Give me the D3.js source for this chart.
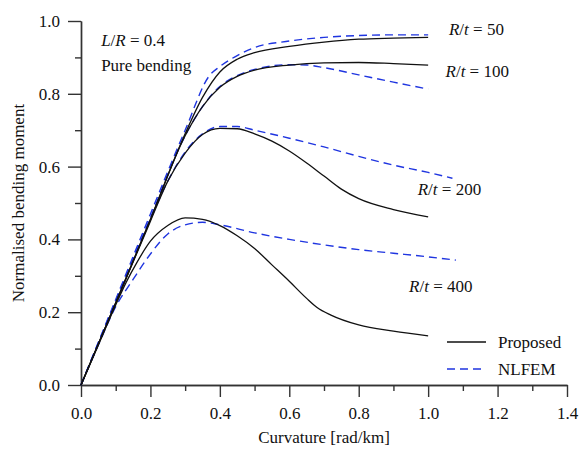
<!DOCTYPE html>
<html>
<head>
<meta charset="utf-8">
<script src="https://cdn.jsdelivr.net/npm/d3@7"></script>
<style>
  body { margin: 0; background: #fff; }
  svg text { font-family: "Liberation Serif", "DejaVu Serif", serif; fill: #111; }
  .axis path, .axis line { stroke: #333; stroke-width: 1.4; }
  .axis text { font-size: 17px; }
</style>
</head>
<body>
<div id="chart"></div>
<script>
// curvature [rad/km] and normalised moment
var prop50x  = [0, 0.1, 0.2, 0.3, 0.35, 0.4, 0.45, 0.5, 0.6, 0.7, 0.8, 0.9, 1.0];
var prop50y  = [0, 0.225, 0.455, 0.69, 0.79, 0.86, 0.895, 0.913, 0.93, 0.942, 0.95, 0.953, 0.955];
var prop100x = [0, 0.1, 0.2, 0.3, 0.35, 0.4, 0.45, 0.5, 0.6, 0.7, 0.8, 0.9, 1.0];
var prop100y = [0, 0.225, 0.455, 0.685, 0.765, 0.818, 0.848, 0.865, 0.879, 0.885, 0.886, 0.883, 0.879];
var prop200x = [0, 0.1, 0.2, 0.25, 0.3, 0.35, 0.4, 0.45, 0.5, 0.55, 0.6, 0.65, 0.7, 0.75, 0.8, 0.9, 1.0];
var prop200y = [0, 0.225, 0.45, 0.56, 0.637, 0.688, 0.705, 0.704, 0.69, 0.67, 0.643, 0.61, 0.574, 0.538, 0.512, 0.482, 0.462];
var prop400x = [0, 0.05, 0.1, 0.13, 0.16, 0.2, 0.25, 0.3, 0.35, 0.4, 0.45, 0.5, 0.55, 0.6, 0.65, 0.68, 0.72, 0.8, 0.9, 1.0];
var prop400y = [0, 0.11, 0.22, 0.282, 0.335, 0.395, 0.438, 0.459, 0.455, 0.438, 0.41, 0.375, 0.33, 0.285, 0.238, 0.213, 0.192, 0.165, 0.148, 0.135];

var fem50x  = [0, 0.1, 0.2, 0.3, 0.37, 0.4, 0.45, 0.5, 0.6, 0.7, 0.8, 0.9, 1.0];
var fem50y  = [0, 0.235, 0.47, 0.70, 0.85, 0.875, 0.905, 0.927, 0.945, 0.955, 0.96, 0.962, 0.962];
var fem100x = [0, 0.1, 0.2, 0.3, 0.35, 0.4, 0.45, 0.5, 0.6, 0.65, 0.7, 0.8, 0.9, 1.0];
var fem100y = [0, 0.23, 0.46, 0.685, 0.765, 0.82, 0.85, 0.867, 0.88, 0.879, 0.872, 0.852, 0.832, 0.813];
var fem200x = [0, 0.1, 0.2, 0.25, 0.3, 0.35, 0.4, 0.45, 0.5, 0.6, 0.7, 0.8, 0.9, 1.0, 1.07];
var fem200y = [0, 0.23, 0.455, 0.56, 0.64, 0.69, 0.71, 0.71, 0.7, 0.678, 0.654, 0.628, 0.604, 0.584, 0.568];
var fem400x = [0, 0.05, 0.1, 0.15, 0.2, 0.25, 0.3, 0.35, 0.4, 0.5, 0.6, 0.7, 0.8, 0.9, 1.0, 1.08];
var fem400y = [0, 0.11, 0.215, 0.29, 0.36, 0.415, 0.44, 0.447, 0.44, 0.418, 0.4, 0.385, 0.372, 0.362, 0.352, 0.343];

var xTicks = [0, 0.2, 0.4, 0.6, 0.8, 1.0, 1.2, 1.4];
var yTicks = [0, 0.2, 0.4, 0.6, 0.8, 1.0];
var xMinor = [0.1, 0.3, 0.5, 0.7, 0.9, 1.1, 1.3];
var yMinor = [0.1, 0.3, 0.5, 0.7, 0.9];

var curveLabels = ["50", "100", "200", "400"];
var legendNames = ["Proposed", "NLFEM"];

var width = 581, height = 451;
var margin = { top: 21, right: 14, bottom: 66, left: 81 };
var w = width - margin.left - margin.right,
    h = height - margin.top - margin.bottom;
var serif = "'Liberation Serif', 'DejaVu Serif', serif";
var fs = "17px";

var svg = d3.select("#chart").append("svg")
    .attr("width", width)
    .attr("height", height);

var g = svg.append("g")
    .attr("transform", "translate(" + margin.left + "," + margin.top + ")");

var x = d3.scaleLinear().domain([0, 1.4]).range([0, w]);
var y = d3.scaleLinear().domain([0, 1.0]).range([h, 0]);

// minor ticks first, then major axes on top
g.append("g").attr("class", "axis")
    .attr("transform", "translate(0," + h + ")")
    .call(d3.axisBottom(x).tickValues(xMinor).tickSize(6).tickSizeOuter(0).tickFormat(""));
g.append("g").attr("class", "axis")
    .call(d3.axisLeft(y).tickValues(yMinor).tickSize(6).tickSizeOuter(0).tickFormat(""));

g.append("g").attr("class", "axis")
    .attr("transform", "translate(0," + h + ")")
    .call(d3.axisBottom(x).tickValues(xTicks).tickSize(12).tickSizeOuter(0).tickPadding(10)
        .tickFormat(d3.format(".1f")));
g.append("g").attr("class", "axis")
    .call(d3.axisLeft(y).tickValues(yTicks).tickSize(13).tickSizeOuter(0).tickPadding(8)
        .tickFormat(d3.format(".1f")));

g.selectAll(".axis").attr("font-family", serif).attr("font-size", 17);

// series
var line = d3.line()
    .x(function(d) { return x(d[0]); })
    .y(function(d) { return y(d[1]); })
    .curve(d3.curveMonotoneX);

function pts(xs, ys) {
    return xs.map(function(v, i) { return [v, ys[i]]; });
}

var fem = [pts(fem50x, fem50y), pts(fem100x, fem100y), pts(fem200x, fem200y), pts(fem400x, fem400y)];
var prop = [pts(prop50x, prop50y), pts(prop100x, prop100y), pts(prop200x, prop200y), pts(prop400x, prop400y)];

g.selectAll(".fem").data(fem).enter().append("path")
    .attr("class", "fem")
    .attr("d", line)
    .attr("fill", "none")
    .attr("stroke", "#1f35e0")
    .attr("stroke-width", 1.4)
    .attr("stroke-dasharray", "8,5");

g.selectAll(".prop").data(prop).enter().append("path")
    .attr("class", "prop")
    .attr("d", line)
    .attr("fill", "none")
    .attr("stroke", "#111")
    .attr("stroke-width", 1.3);

// curve labels  R/t = ...
var labelPos = [[1.06, 0.961], [1.05, 0.8465], [0.97, 0.5225], [0.945, 0.2555]];
curveLabels.forEach(function(lbl, i) {
    var t = g.append("text")
        .attr("x", x(labelPos[i][0]))
        .attr("y", y(labelPos[i][1]))
        .attr("font-family", serif)
        .style("font-size", fs);
    t.append("tspan").style("font-style", "italic").text("R");
    t.append("tspan").text("/");
    t.append("tspan").style("font-style", "italic").text("t");
    t.append("tspan").text(" = " + lbl);
});

// case annotation
var ann = g.append("text")
    .attr("x", x(0.058))
    .attr("y", y(0.932))
    .attr("font-family", serif)
    .style("font-size", fs);
ann.append("tspan").style("font-style", "italic").text("L");
ann.append("tspan").text("/");
ann.append("tspan").style("font-style", "italic").text("R");
ann.append("tspan").text(" = 0.4");

g.append("text")
    .attr("x", x(0.058))
    .attr("y", y(0.862))
    .attr("font-family", serif)
    .style("font-size", fs)
    .text("Pure bending");

// legend
var legend = g.append("g").attr("transform", "translate(" + (447 - margin.left) + "," + (342 - margin.top) + ")");
legendNames.forEach(function(name, i) {
    var row = legend.append("g").attr("transform", "translate(0," + (i * 27) + ")");
    row.append("line")
        .attr("x1", 0).attr("x2", 39)
        .attr("y1", 0).attr("y2", 0)
        .attr("stroke", i == 0 ? "#111" : "#1f35e0")
        .attr("stroke-width", i == 0 ? 1.3 : 1.4)
        .attr("stroke-dasharray", i == 0 ? null : "8,5");
    row.append("text")
        .attr("x", 51)
        .attr("y", 5.5)
        .attr("font-family", serif)
        .style("font-size", fs)
        .text(name);
});

// axis titles
svg.append("text")
    .attr("x", margin.left + x(0.7))
    .attr("y", 443)
    .attr("text-anchor", "middle")
    .attr("font-family", serif)
    .style("font-size", fs)
    .text("Curvature [rad/km]");

svg.append("text")
    .attr("transform", "translate(24," + (margin.top + h / 2) + ") rotate(-90)")
    .attr("text-anchor", "middle")
    .attr("font-family", serif)
    .style("font-size", fs)
    .text("Normalised bending moment");
</script>
</body>
</html>
